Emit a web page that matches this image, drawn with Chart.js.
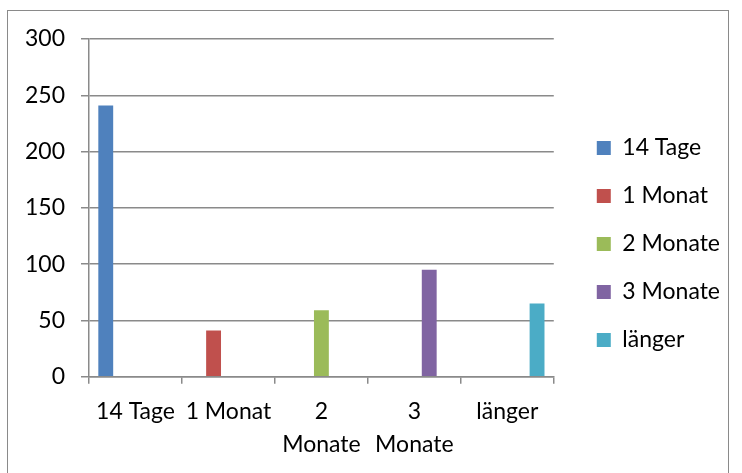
<!DOCTYPE html>
<html>
<head>
<meta charset="utf-8">
<script src="https://cdn.jsdelivr.net/npm/chart.js@4"></script>
<style>
  body { margin: 0; background: #fff; }
  #frame { position: absolute; left: 7px; top: 10px; width: 720px; height: 480px; border: 1px solid #8a8a8a; }
  #wrap { position: absolute; left: 0; top: 0; width: 742px; height: 473px; }
</style>
</head>
<body>
<div id="frame"></div>
<div id="wrap"><canvas id="chart"></canvas></div>
<script>
const tickLabels = [['14 Tage'], ['1 Monat'], ['2', 'Monate'], ['3', 'Monate'], ['länger']];
const seriesNames = ['14 Tage', '1 Monat', '2 Monate', '3 Monate', 'länger'];
const seriesValues = [241, 41, 59, 95, 65];
const seriesColors = ['#4f81bd', '#c0504d', '#9bbb59', '#8064a2', '#4bacc6'];

const FONT = 'Lato, "Open Sans", sans-serif';
const gridColor = '#8a8a8a';
const LEGEND_GAP = 18;
const LEGEND_LIFT = 12;

// one dataset per series, value only in its own category (Excel style)
const datasets = seriesNames.map((name, i) => ({
  label: name,
  data: seriesValues.map((v, j) => (j === i ? v : null)),
  backgroundColor: seriesColors[i],
  categoryPercentage: 0.8,
  barPercentage: 1.0,
}));

// extra room between plot area and legend, legend a bit higher
const legendGap = {
  id: 'legendGap',
  afterInit(chart) {
    const legend = chart.legend;
    const fit = legend.fit;
    legend.fit = function () {
      fit.call(this);
      this.width += LEGEND_GAP;
    };
  },
  afterLayout(chart) {
    const legend = chart.legend;
    legend.left += LEGEND_GAP;
    legend.top -= LEGEND_LIFT;
    legend.bottom -= LEGEND_LIFT;
  },
};

const ctx = document.getElementById('chart').getContext('2d');
new Chart(ctx, {
  type: 'bar',
  data: { labels: tickLabels, datasets },
  plugins: [legendGap],
  options: {
    responsive: true,
    maintainAspectRatio: false,
    animation: false,
    layout: { padding: { left: 9, top: 39, right: 12, bottom: 0 } },
    plugins: {
      legend: {
        position: 'right',
        labels: {
          boxWidth: 14,
          boxHeight: 14,
          padding: 25,
          color: '#000',
          font: { family: FONT, size: 23 },
        },
      },
      tooltip: { enabled: false },
    },
    scales: {
      x: {
        grid: {
          offset: true,
          drawOnChartArea: false,
          drawTicks: true,
          tickLength: 7,
          color: gridColor,
          lineWidth: 1.5,
        },
        border: { color: gridColor, width: 1.5 },
        ticks: {
          color: '#000',
          padding: 12,
          maxRotation: 0,
          autoSkip: false,
          font: { family: FONT, size: 23, lineHeight: 1.42 },
        },
      },
      y: {
        min: 0,
        max: 300,
        grid: { color: gridColor, lineWidth: 1.5, tickLength: 8 },
        border: { color: gridColor, width: 1.5 },
        ticks: {
          stepSize: 50,
          color: '#000',
          padding: 16,
          font: { family: FONT, size: 23 },
        },
      },
    },
  },
});
</script>
</body>
</html>
